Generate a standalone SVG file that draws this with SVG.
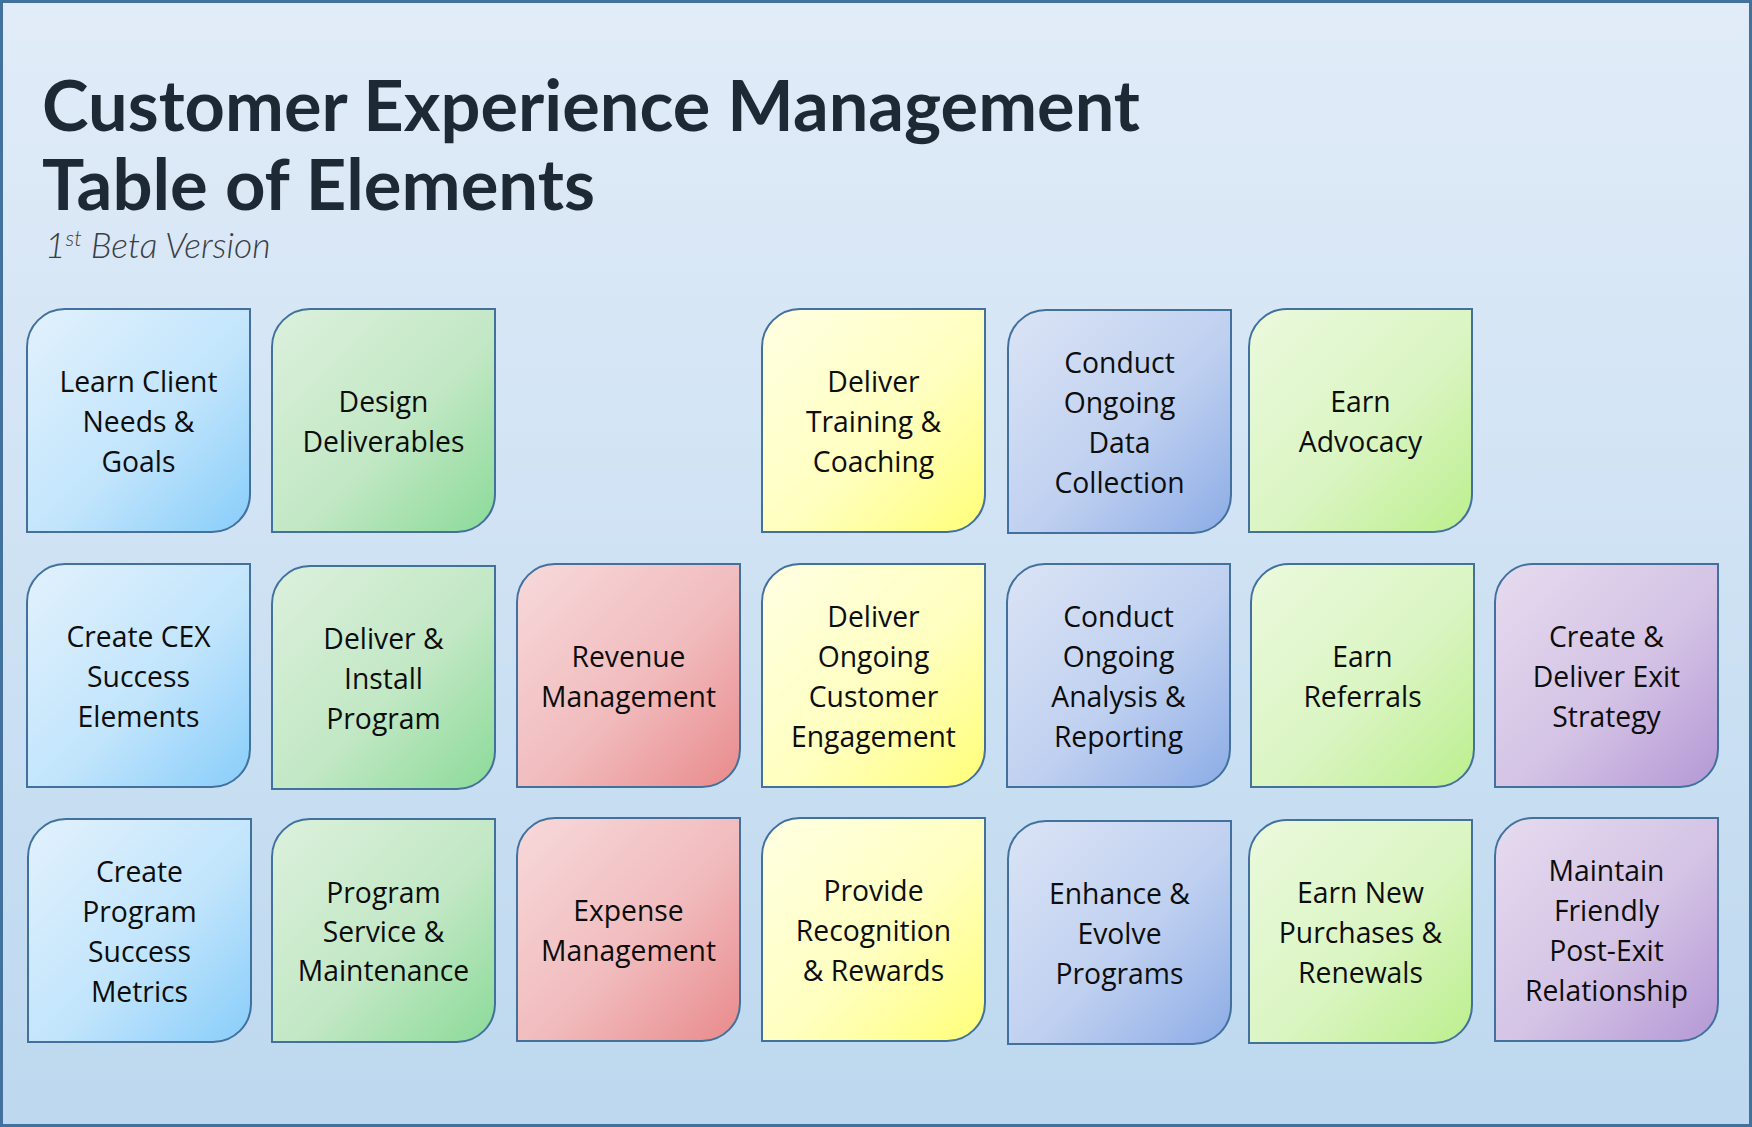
<svg xmlns="http://www.w3.org/2000/svg" width="1752" height="1127" viewBox="0 0 1752 1127">
<defs>
<linearGradient id="bg" x1="0" y1="0" x2="0" y2="1">
<stop offset="0" stop-color="#e1ecf8"/><stop offset="1" stop-color="#bdd8ef"/>
</linearGradient>
<linearGradient id="gBlue" x1="0" y1="0" x2="1" y2="1">
<stop offset="0" stop-color="#e2f1fd"/><stop offset="0.55" stop-color="#c2e5fc"/><stop offset="1" stop-color="#88cdfa"/>
</linearGradient>
<linearGradient id="gGreen" x1="0" y1="0" x2="1" y2="1">
<stop offset="0" stop-color="#dcf0dc"/><stop offset="0.55" stop-color="#c2e8c5"/><stop offset="1" stop-color="#8bda98"/>
</linearGradient>
<linearGradient id="gYellow" x1="0" y1="0" x2="1" y2="1">
<stop offset="0" stop-color="#ffffe4"/><stop offset="0.55" stop-color="#ffffc0"/><stop offset="1" stop-color="#ffff78"/>
</linearGradient>
<linearGradient id="gPeri" x1="0" y1="0" x2="1" y2="1">
<stop offset="0" stop-color="#dbe4f5"/><stop offset="0.55" stop-color="#bfd0f0"/><stop offset="1" stop-color="#8cace6"/>
</linearGradient>
<linearGradient id="gLime" x1="0" y1="0" x2="1" y2="1">
<stop offset="0" stop-color="#ebf9dd"/><stop offset="0.55" stop-color="#daf5c2"/><stop offset="1" stop-color="#bcef8e"/>
</linearGradient>
<linearGradient id="gRed" x1="0" y1="0" x2="1" y2="1">
<stop offset="0" stop-color="#f7d9db"/><stop offset="0.55" stop-color="#f1bbbd"/><stop offset="1" stop-color="#e98a8b"/>
</linearGradient>
<linearGradient id="gPurple" x1="0" y1="0" x2="1" y2="1">
<stop offset="0" stop-color="#e6dbef"/><stop offset="0.55" stop-color="#d4c3e5"/><stop offset="1" stop-color="#b498d5"/>
</linearGradient>
<path id="tile" d="M0,38 A38,38 0 0 1 38,0 H223 V185 A38,38 0 0 1 185,223 H0 Z"/>
</defs>
<style>
.t{stroke:#41719c;stroke-width:2}
.blue{fill:url(#gBlue)}.green{fill:url(#gGreen)}.yellow{fill:url(#gYellow)}.peri{fill:url(#gPeri)}.lime{fill:url(#gLime)}.red{fill:url(#gRed)}.purple{fill:url(#gPurple)}
.lbl{font-family:"Open Sans","Noto Sans",sans-serif;font-size:28.3px;fill:#0d0d0d;text-anchor:middle}
.title{font-family:Lato,"Liberation Sans",sans-serif;font-weight:700;font-size:70px;fill:#1e2936}
.sub{font-family:Lato,"Liberation Sans",sans-serif;font-weight:300;font-style:italic;font-size:35.5px;fill:#3a3f46}
</style>
<rect x="1.5" y="1.5" width="1749" height="1124" fill="url(#bg)" stroke="#41719c" stroke-width="3"/>
<g id="heading">
<text class="title" x="42" y="131" textLength="1098" lengthAdjust="spacingAndGlyphs">Customer Experience Management</text>
<text class="title" x="42" y="210" textLength="553" lengthAdjust="spacingAndGlyphs">Table of Elements</text>
<text class="sub" x="45" y="258">1<tspan font-size="22" dy="-12">st</tspan><tspan dy="12"> Beta Version</tspan></text>
</g>
<g id="connectors"></g>
<g id="learn" transform="translate(27,309)"><use href="#tile" class="t blue"/><text class="lbl"><tspan x="111.5" y="82.5">Learn Client</tspan><tspan x="111.5" y="122.5">Needs &amp;</tspan><tspan x="111.5" y="162.5">Goals</tspan></text></g>
<g id="design" transform="translate(272,309)"><use href="#tile" class="t green"/><text class="lbl"><tspan x="111.5" y="102.5">Design</tspan><tspan x="111.5" y="142.5">Deliverables</tspan></text></g>
<g id="training" transform="translate(762,309)"><use href="#tile" class="t yellow"/><text class="lbl"><tspan x="111.5" y="82.5">Deliver</tspan><tspan x="111.5" y="122.5">Training &amp;</tspan><tspan x="111.5" y="162.5">Coaching</tspan></text></g>
<g id="datacollection" transform="translate(1008,310)"><use href="#tile" class="t peri"/><text class="lbl"><tspan x="111.5" y="62.5">Conduct</tspan><tspan x="111.5" y="102.5">Ongoing</tspan><tspan x="111.5" y="142.5">Data</tspan><tspan x="111.5" y="182.5">Collection</tspan></text></g>
<g id="advocacy" transform="translate(1249,309)"><use href="#tile" class="t lime"/><text class="lbl"><tspan x="111.5" y="102.5">Earn</tspan><tspan x="111.5" y="142.5">Advocacy</tspan></text></g>
<g id="cex" transform="translate(27,564)"><use href="#tile" class="t blue"/><text class="lbl"><tspan x="111.5" y="82.5">Create CEX</tspan><tspan x="111.5" y="122.5">Success</tspan><tspan x="111.5" y="162.5">Elements</tspan></text></g>
<g id="install" transform="translate(272,566)"><use href="#tile" class="t green"/><text class="lbl"><tspan x="111.5" y="82.5">Deliver &amp;</tspan><tspan x="111.5" y="122.5">Install</tspan><tspan x="111.5" y="162.5">Program</tspan></text></g>
<g id="revenue" transform="translate(517,564)"><use href="#tile" class="t red"/><text class="lbl"><tspan x="111.5" y="102.5">Revenue</tspan><tspan x="111.5" y="142.5">Management</tspan></text></g>
<g id="engagement" transform="translate(762,564)"><use href="#tile" class="t yellow"/><text class="lbl"><tspan x="111.5" y="62.5">Deliver</tspan><tspan x="111.5" y="102.5">Ongoing</tspan><tspan x="111.5" y="142.5">Customer</tspan><tspan x="111.5" y="182.5">Engagement</tspan></text></g>
<g id="analysis" transform="translate(1007,564)"><use href="#tile" class="t peri"/><text class="lbl"><tspan x="111.5" y="62.5">Conduct</tspan><tspan x="111.5" y="102.5">Ongoing</tspan><tspan x="111.5" y="142.5">Analysis &amp;</tspan><tspan x="111.5" y="182.5">Reporting</tspan></text></g>
<g id="referrals" transform="translate(1251,564)"><use href="#tile" class="t lime"/><text class="lbl"><tspan x="111.5" y="102.5">Earn</tspan><tspan x="111.5" y="142.5">Referrals</tspan></text></g>
<g id="exitstrategy" transform="translate(1495,564)"><use href="#tile" class="t purple"/><text class="lbl"><tspan x="111.5" y="82.5">Create &amp;</tspan><tspan x="111.5" y="122.5">Deliver Exit</tspan><tspan x="111.5" y="162.5">Strategy</tspan></text></g>
<g id="metrics" transform="translate(28,819)"><use href="#tile" class="t blue"/><text class="lbl"><tspan x="111.5" y="62.5">Create</tspan><tspan x="111.5" y="102.5">Program</tspan><tspan x="111.5" y="142.5">Success</tspan><tspan x="111.5" y="182.5">Metrics</tspan></text></g>
<g id="service" transform="translate(272,819)"><use href="#tile" class="t green"/><text class="lbl"><tspan x="111.5" y="83.5">Program</tspan><tspan x="111.5" y="122.5">Service &amp;</tspan><tspan x="111.5" y="161.5">Maintenance</tspan></text></g>
<g id="expense" transform="translate(517,818)"><use href="#tile" class="t red"/><text class="lbl"><tspan x="111.5" y="102.5">Expense</tspan><tspan x="111.5" y="142.5">Management</tspan></text></g>
<g id="rewards" transform="translate(762,818)"><use href="#tile" class="t yellow"/><text class="lbl"><tspan x="111.5" y="82.5">Provide</tspan><tspan x="111.5" y="122.5">Recognition</tspan><tspan x="111.5" y="162.5">&amp; Rewards</tspan></text></g>
<g id="enhance" transform="translate(1008,821)"><use href="#tile" class="t peri"/><text class="lbl"><tspan x="111.5" y="82.5">Enhance &amp;</tspan><tspan x="111.5" y="122.5">Evolve</tspan><tspan x="111.5" y="162.5">Programs</tspan></text></g>
<g id="purchases" transform="translate(1249,820)"><use href="#tile" class="t lime"/><text class="lbl"><tspan x="111.5" y="82.5">Earn New</tspan><tspan x="111.5" y="122.5">Purchases &amp;</tspan><tspan x="111.5" y="162.5">Renewals</tspan></text></g>
<g id="postexit" transform="translate(1495,818)"><use href="#tile" class="t purple"/><text class="lbl"><tspan x="111.5" y="62.5">Maintain</tspan><tspan x="111.5" y="102.5">Friendly</tspan><tspan x="111.5" y="142.5">Post-Exit</tspan><tspan x="111.5" y="182.5">Relationship</tspan></text></g>
</svg>
